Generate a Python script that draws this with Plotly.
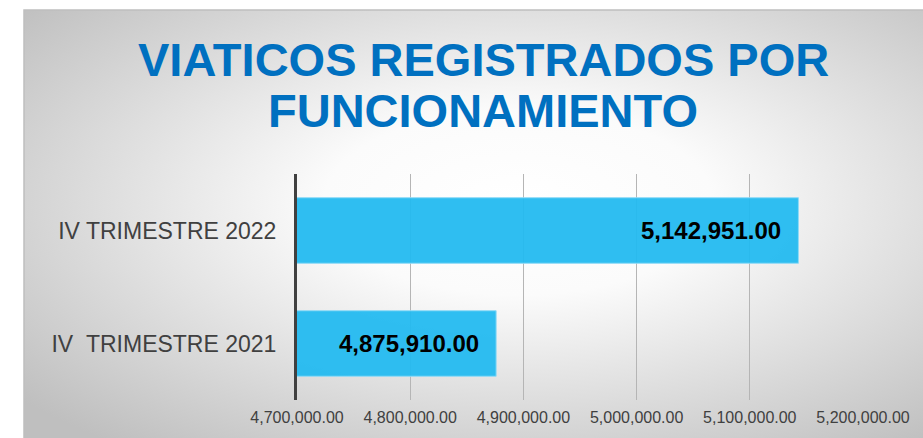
"""Viaticos registrados por funcionamiento - horizontal bar chart."""

import base64

import plotly.graph_objects as go

# data
categories = ["IV\u00a0\u00a0TRIMESTRE 2021", "IV TRIMESTRE 2022"]
values = [4875910.00, 5142951.00]
tick_values = [4700000, 4800000, 4900000, 5000000, 5100000, 5200000]
title_lines = ["VIATICOS REGISTRADOS POR", "FUNCIONAMIENTO"]

W, H = 923, 438
M_L, M_R, M_T, M_B = 297, 60, 174, 38
FONT = "Liberation Sans, Arial, sans-serif"


def px_x(px):
    return (px - M_L) / (W - M_L - M_R)


def px_y(py):
    return (H - M_B - py) / (H - M_T - M_B)


# radial grey background panel (like the slide)
svg = (
    "<svg xmlns='http://www.w3.org/2000/svg' width='899' height='428' "
    "viewBox='0 0 899 428' preserveAspectRatio='none'>"
    "<defs><radialGradient id='g' cx='0.55' cy='0.45' r='0.72'>"
    "<stop offset='0' stop-color='#ffffff'/>"
    "<stop offset='0.3' stop-color='#fbfbfb'/>"
    "<stop offset='1' stop-color='#bfbfbf'/>"
    "</radialGradient></defs>"
    "<rect width='899' height='428' fill='url(#g)'/></svg>"
)
bg_src = "data:image/svg+xml;base64," + base64.b64encode(svg.encode()).decode()

fig = go.Figure()
fig.add_trace(
    go.Bar(
        x=values,
        y=categories,
        orientation="h",
        width=0.58,
        marker=dict(color="rgba(34,186,240,0.94)", line=dict(color="#8fdaf6", width=1)),
        hoverinfo="x+y",
    )
)

annotations = []
for v, c in zip(values, categories):
    annotations.append(
        dict(
            x=v, y=c, xref="x", yref="y",
            text=f"<b>{v:,.2f}</b>",
            showarrow=False, xanchor="right", yanchor="middle", xshift=-15,
            font=dict(family=FONT, size=24, color="#000000"),
        )
    )
for line, py in zip(title_lines, [59, 111]):
    annotations.append(
        dict(
            x=px_x(483), y=px_y(py), xref="paper", yref="paper",
            text=f"<b>{line}</b>",
            showarrow=False, xanchor="center", yanchor="middle",
            font=dict(family=FONT, size=47, color="#0070C0"),
        )
    )

fig.update_layout(
    width=W,
    height=H,
    margin=dict(l=M_L, r=M_R, t=M_T, b=M_B, pad=0),
    paper_bgcolor="#ffffff",
    plot_bgcolor="rgba(0,0,0,0)",
    showlegend=False,
    font=dict(family=FONT, color="#404040"),
    annotations=annotations,
    images=[
        dict(
            source=bg_src,
            xref="paper", yref="paper",
            x=px_x(24), y=px_y(10),
            sizex=px_x(W) - px_x(24), sizey=px_y(10) - px_y(H),
            xanchor="left", yanchor="top",
            sizing="stretch", layer="below",
        )
    ],
    shapes=[
        dict(
            type="rect", xref="paper", yref="paper",
            x0=px_x(24), x1=px_x(W + 2), y0=px_y(H + 2), y1=px_y(10),
            line=dict(color="#bfbfbf", width=1.5), layer="below",
        )
    ],
    xaxis=dict(
        range=[4700000, 5200000],
        tickvals=tick_values,
        tickformat=",.2f",
        showgrid=True,
        gridcolor="#b5b5b5",
        gridwidth=1,
        zeroline=False,
        showline=False,
        ticks="",
        ticklabelstandoff=6,
        tickfont=dict(family=FONT, size=16, color="#404040"),
    ),
    yaxis=dict(
        range=[-0.5, 1.5],
        showgrid=False,
        zeroline=False,
        showline=True,
        linecolor="#404040",
        linewidth=3,
        ticks="",
        ticklabelstandoff=13,
        tickfont=dict(family=FONT, size=23, color="#404040"),
    ),
)

fig.write_html(
    "out.html",
    config={"displayModeBar": False},
    post_script="document.body.style.margin = '0';",
)
